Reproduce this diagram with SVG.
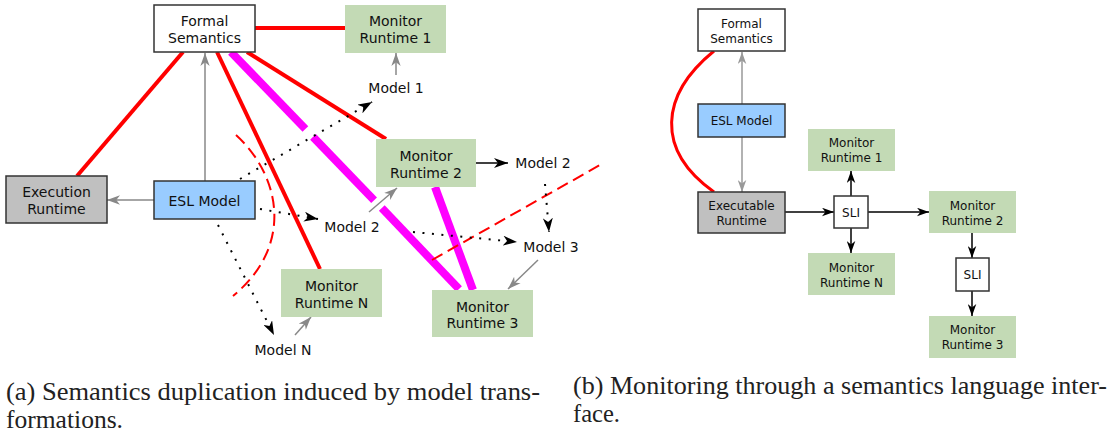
<svg xmlns="http://www.w3.org/2000/svg" width="1120" height="432" viewBox="0 0 1120 432">
<style>
.t14{font-family:"DejaVu Sans",Verdana,sans-serif;font-size:14px;text-anchor:middle;fill:#111}
.t12{font-family:"DejaVu Sans",Verdana,sans-serif;font-size:12px;text-anchor:middle;fill:#111}
.cap{font-family:"Liberation Serif","Times New Roman",serif;font-size:25px;fill:#222}
.white{fill:#fff;stroke:#333;stroke-width:1.5}
.blue{fill:#99ccff;stroke:#333;stroke-width:1.5}
.grey{fill:#c0c0c0;stroke:#333;stroke-width:1.5}
.green{fill:#c3dab5;stroke:none}
.red{stroke:#ff0000;stroke-width:4;fill:none}
.mag{stroke:#ff00ff;stroke-width:8;fill:none}
.rdash{stroke:#ff0000;stroke-width:2;fill:none;stroke-dasharray:12 6}
.dot{stroke:#000;stroke-width:2;fill:none;stroke-dasharray:2 7.5;marker-end:url(#ab)}
.garr{stroke:#888;stroke-width:1.5;fill:none;marker-end:url(#ag)}
.barr{stroke:#000;stroke-width:1.5;fill:none;marker-end:url(#ab)}
.barr2{stroke:#000;stroke-width:1.5;fill:none;marker-end:url(#ab2)}
.garr2{stroke:#999;stroke-width:1.5;fill:none;marker-end:url(#ag2)}
</style>
<defs>
<marker id="ab" viewBox="0 0 14 10" refX="14" refY="5" markerWidth="14" markerHeight="10" markerUnits="userSpaceOnUse" orient="auto"><path d="M0,0 L14,5 L0,10 L4,5 z" fill="#000"/></marker>
<marker id="ag" viewBox="0 0 14 10" refX="14" refY="5" markerWidth="13" markerHeight="11" markerUnits="userSpaceOnUse" orient="auto"><path d="M0,0 L14,5 L0,10 L4,5 z" fill="#888"/></marker>
<marker id="ab2" viewBox="0 0 14 10" refX="14" refY="5" markerWidth="12" markerHeight="9" markerUnits="userSpaceOnUse" orient="auto"><path d="M0,0 L14,5 L0,10 L4,5 z" fill="#000"/></marker>
<marker id="ag2" viewBox="0 0 14 10" refX="14" refY="5" markerWidth="12" markerHeight="9" markerUnits="userSpaceOnUse" orient="auto"><path d="M0,0 L14,5 L0,10 L4,5 z" fill="#999"/></marker>
</defs>
<rect width="1120" height="432" fill="#fff"/>

<g id="connectors">
<line class="red" x1="255" y1="28" x2="345" y2="28"/>
<line class="red" x1="183" y1="52" x2="77" y2="176"/>
<line class="red" x1="217" y1="52" x2="320" y2="269"/>
<line class="red" x1="247" y1="52" x2="386" y2="139"/>
<line class="mag" x1="231" y1="52" x2="305.4" y2="129"/>
<line class="mag" x1="313" y1="136.9" x2="374.1" y2="200.2"/>
<line class="mag" x1="381.8" y1="208.1" x2="459" y2="289"/>
<line class="mag" x1="435" y1="187" x2="473" y2="290"/>
<path class="rdash" d="M236,135 C280,175 295,245 233,296"/>
<line class="rdash" x1="432" y1="260" x2="600" y2="165"/>
<line class="garr" x1="205" y1="181" x2="205" y2="53"/>
<line class="garr" x1="154" y1="200" x2="107" y2="200"/>
<line class="garr" x1="396" y1="75" x2="396" y2="53"/>
<line class="garr" x1="369" y1="212" x2="397" y2="188"/>
<line class="garr" x1="538" y1="260" x2="508" y2="289"/>
<line class="garr" x1="295" y1="335" x2="311" y2="317"/>
<line class="barr" x1="476" y1="163" x2="508" y2="163"/>
<line class="dot" x1="240" y1="179" x2="372" y2="102"/>
<line class="dot" x1="260" y1="209" x2="318" y2="219"/>
<line class="dot" x1="218" y1="225" x2="274" y2="335"/>
<line class="dot" x1="413" y1="232" x2="517" y2="242"/>
<line class="dot" x1="545" y1="184" x2="549" y2="232"/>

<path d="M714,51 C660,95 655,150 714,192" stroke="#ff0000" stroke-width="3" fill="none"/>
<line class="garr2" x1="742" y1="104" x2="742" y2="52"/>
<line class="garr2" x1="742" y1="137" x2="742" y2="192"/>
<line class="barr2" x1="785" y1="212" x2="834" y2="212"/>
<line class="barr2" x1="868" y1="212" x2="929" y2="212"/>
<line class="barr2" x1="851" y1="196" x2="851" y2="171"/>
<line class="barr2" x1="851" y1="228" x2="851" y2="253"/>
<line class="barr2" x1="972" y1="233" x2="972" y2="258"/>
<line class="barr2" x1="972" y1="291" x2="972" y2="316"/>
</g>

<g id="a-formal-semantics"><rect class="white" x="154" y="5" width="101" height="47"/><text class="t14" x="204.5" y="26">Formal</text><text class="t14" x="204.5" y="43">Semantics</text></g>
<g id="a-monitor-runtime-1"><rect class="green" x="345" y="5" width="101" height="48"/><text class="t14" x="395.5" y="26">Monitor</text><text class="t14" x="395.5" y="43">Runtime 1</text></g>
<g id="a-execution-runtime"><rect class="grey" x="6" y="176" width="101" height="47"/><text class="t14" x="56.5" y="197">Execution</text><text class="t14" x="56.5" y="214">Runtime</text></g>
<g id="a-esl-model"><rect class="blue" x="154" y="181" width="101" height="38"/><text class="t14" x="204.5" y="205.5">ESL Model</text></g>
<g id="a-monitor-runtime-2"><rect class="green" x="376" y="139" width="100" height="48"/><text class="t14" x="426" y="160.5">Monitor</text><text class="t14" x="426" y="177.5">Runtime 2</text></g>
<g id="a-monitor-runtime-n"><rect class="green" x="281" y="269" width="101" height="48"/><text class="t14" x="331.5" y="290.5">Monitor</text><text class="t14" x="331.5" y="307.5">Runtime N</text></g>
<g id="a-monitor-runtime-3"><rect class="green" x="432" y="290" width="101" height="47"/><text class="t14" x="482.5" y="311.5">Monitor</text><text class="t14" x="482.5" y="328">Runtime 3</text></g>
<g id="a-model-1"><text class="t14" x="396" y="93">Model 1</text></g>
<g id="a-model-2-upper"><text class="t14" x="543" y="168">Model 2</text></g>
<g id="a-model-2-lower"><text class="t14" x="352" y="232">Model 2</text></g>
<g id="a-model-3"><text class="t14" x="551" y="252">Model 3</text></g>
<g id="a-model-n"><text class="t14" x="283" y="355">Model N</text></g>

<g id="b-formal-semantics"><rect class="white" x="698" y="9" width="87" height="42"/><text class="t12" x="741.5" y="28">Formal</text><text class="t12" x="741.5" y="43">Semantics</text></g>
<g id="b-esl-model"><rect class="blue" x="698" y="104" width="87" height="33"/><text class="t12" x="741.5" y="125">ESL Model</text></g>
<g id="b-executable-runtime"><rect class="grey" x="698" y="192" width="87" height="41"/><text class="t12" x="741.5" y="209.5">Executable</text><text class="t12" x="741.5" y="224.5">Runtime</text></g>
<g id="b-monitor-runtime-1"><rect class="green" x="808" y="129" width="87" height="42"/><text class="t12" x="851.5" y="147">Monitor</text><text class="t12" x="851.5" y="162">Runtime 1</text></g>
<g id="b-sli-1"><rect class="white" x="834" y="196" width="34" height="32"/><text class="t12" x="851" y="216.5">SLI</text></g>
<g id="b-monitor-runtime-n"><rect class="green" x="808" y="253" width="87" height="42"/><text class="t12" x="851.5" y="271.5">Monitor</text><text class="t12" x="851.5" y="286.5">Runtime N</text></g>
<g id="b-monitor-runtime-2"><rect class="green" x="929" y="191" width="87" height="42"/><text class="t12" x="972.5" y="209.5">Monitor</text><text class="t12" x="972.5" y="224.5">Runtime 2</text></g>
<g id="b-sli-2"><rect class="white" x="956" y="258" width="33" height="33"/><text class="t12" x="972.5" y="279">SLI</text></g>
<g id="b-monitor-runtime-3"><rect class="green" x="929" y="316" width="87" height="42"/><text class="t12" x="972.5" y="333.5">Monitor</text><text class="t12" x="972.5" y="348.5">Runtime 3</text></g>

<g id="captions">
<text class="cap" x="6" y="400" textLength="534" lengthAdjust="spacingAndGlyphs">(a) Semantics duplication induced by model trans-</text>
<text class="cap" x="6" y="428" textLength="117" lengthAdjust="spacingAndGlyphs">formations.</text>
<text class="cap" x="573" y="394" textLength="534" lengthAdjust="spacingAndGlyphs">(b) Monitoring through a semantics language inter-</text>
<text class="cap" x="573" y="422" textLength="47" lengthAdjust="spacingAndGlyphs">face.</text>
</g>
</svg>
